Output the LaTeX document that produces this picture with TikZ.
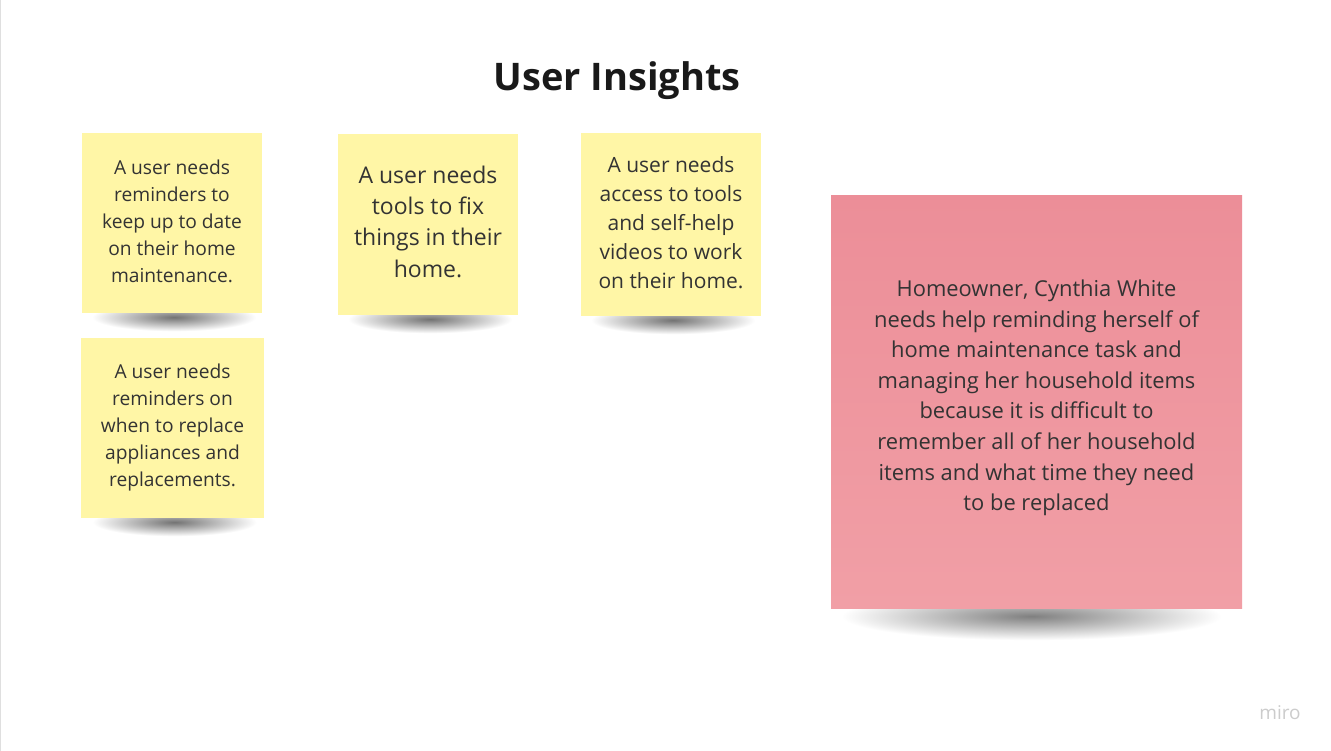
\documentclass[tikz,border=0pt]{standalone}
\usepackage{fontspec}
\setmainfont{Open Sans}
\usepackage{xcolor}
\usepackage{tikz}
\usetikzlibrary{calc,backgrounds}

\definecolor{noteyellow}{HTML}{FFF6A6}
\definecolor{pinktop}{HTML}{EC8E98}
\definecolor{pinkbot}{HTML}{F19FA6}
\definecolor{notetext}{HTML}{333333}

% lift a centred block of text without changing its box
\newcommand{\lifted}[3]{\raisebox{#1}[\height][\depth]{\parbox{#2}{\centering #3}}}

\begin{document}
\begin{tikzpicture}[
    x=1pt, y=-1pt,
    note/.style={rectangle,fill=noteyellow,minimum width=180pt,minimum height=180pt,
                 inner sep=0pt,align=center,text=notetext},
    small/.style={font=\fontsize{19.2}{27}\selectfont},
    big/.style={font=\fontsize{23}{31.3}\selectfont},
    pinknote/.style={note,top color=pinktop,bottom color=pinkbot,minimum width=411pt,minimum height=412pt,
                 font=\fontsize{21.9}{30.6}\selectfont},
    drop/.style={inner color=black!55,outer color=white},
  ]
  \useasboundingbox (0,0) rectangle (1331,751);

  % title
  \node[font=\fontsize{38}{44}\bfseries\selectfont,text=black!90] (title) at (617,81) {User Insights};

  % yellow notes
  \node[note,small] (remind) at (172,223) {\lifted{2pt}{170pt}{A user needs\\reminders to\\keep up to date\\on their home\\maintenance.}};
  \node[note,small,minimum width=183pt] (replace) at (172.5,428) {A user needs\\reminders on\\when to replace\\appliances and\\replacements.};
  \node[note,big,minimum height=181pt] (tools) at (428,224.5) {\lifted{3pt}{170pt}{A user needs\\tools to fix\\things in their\\home.}};
  \node[note,minimum height=183pt,font=\fontsize{21}{29}\selectfont] (videos) at (671,224.5) {\lifted{2pt}{170pt}{A user needs\\access to tools\\and self-help\\videos to work\\on their home.}};

  % persona statement
  \node[pinknote] (persona) at (1036.5,402) {\lifted{4pt}{400pt}{Homeowner, Cynthia White\\needs help reminding herself of\\home maintenance task and\\managing her household items\\because it is difficult to\\remember all of her household\\items and what time they need\\to be replaced}};

  % watermark
  \node[font=\fontsize{19}{22}\selectfont,text=gray!40] (miro) at (1280,713) {miro};

  % page and drop shadows under the notes
  \begin{scope}[on background layer]
    \fill[white] (0,0) rectangle (1331,751);
    \draw[gray!25] (0.5,0) -- (0.5,751);
    \foreach \n in {remind,replace,tools,videos}
      \shade[drop] ($(\n.south)+(-80,-10)$) rectangle ($(\n.south)+(84,18)$);
    \shade[drop,inner color=black!50] ($(persona.south)+(-195,-16)$) rectangle ($(persona.south)+(185,32)$);
  \end{scope}
\end{tikzpicture}
\end{document}
